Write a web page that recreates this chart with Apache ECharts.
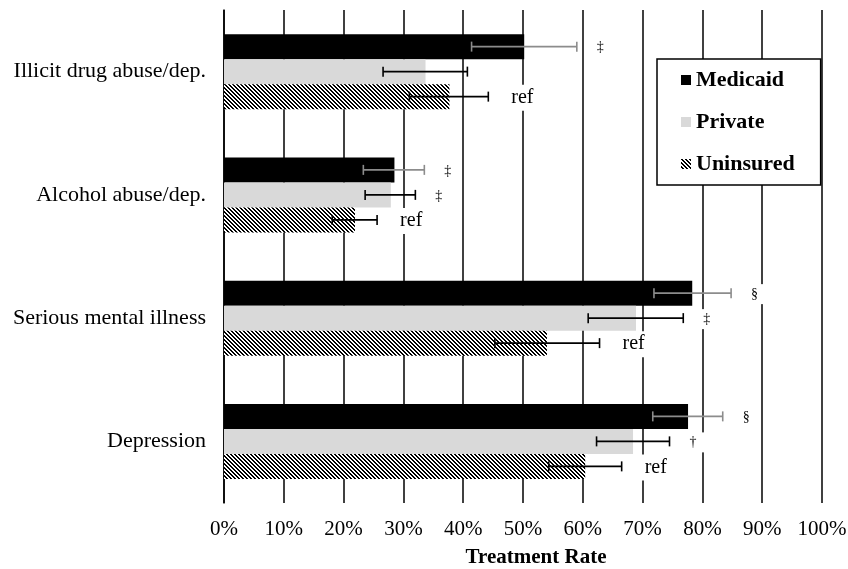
<!DOCTYPE html>
<html>
<head>
<meta charset="utf-8">
<script src="https://cdn.jsdelivr.net/npm/echarts@6/dist/echarts.min.js"></script>
<style>
    html,
    body {
        margin: 0;
        padding: 0;
        background: #fff;
    }
    #chart {
        width: 848px;
        height: 569px;
    }
</style>
</head>
<body>
<div id="chart"></div>
<script>
// values (percent)
const categories = [
    "Illicit drug abuse/dep.",
    "Alcohol abuse/dep.",
    "Serious mental illness",
    "Depression",
];
const seriesNames = ["Medicaid", "Private", "Uninsured"];

const medicaid = [50.2, 28.5, 78.3, 77.6];
const privateIns = [33.7, 27.9, 68.9, 68.4];
const uninsured = [37.7, 21.9, 54.0, 60.4];

const medicaidLow = [41.4, 23.3, 71.9, 71.7];
const medicaidHigh = [59.0, 33.5, 84.8, 83.4];
const privateLow = [26.6, 23.6, 60.9, 62.3];
const privateHigh = [40.7, 32.0, 76.8, 74.5];
const uninsuredLow = [31.0, 18.1, 45.3, 54.3];
const uninsuredHigh = [44.2, 25.6, 62.8, 66.5];

const medicaidMark = ["‡", "‡", "§", "§"];
const privateMark = ["", "‡", "‡", "†"];
const uninsuredMark = ["ref", "ref", "ref", "ref"];

const xTicks = [0, 10, 20, 30, 40, 50, 60, 70, 80, 90, 100];

const barWidth = 25;
const serif = "'Liberation Serif', 'DejaVu Serif', serif";

// diagonal hatch for the uninsured bars
const makeHatch = () => {
    const c = document.createElement("canvas");
    c.width = 4;
    c.height = 4;
    const ctx = c.getContext("2d");
    ctx.fillStyle = "#fff";
    ctx.fillRect(0, 0, 4, 4);
    ctx.fillStyle = "#000";
    for (let x = 0; x < 4; x++) {
        for (let y = 0; y < 4; y++) {
            const d = (((x - y) % 4) + 4) % 4;
            if (d < 2) ctx.fillRect(x, y, 1, 1);
        }
    }
    return c;
};
const hatch = { image: makeHatch(), repeat: "repeat" };

const groups = [
    { values: medicaid, low: medicaidLow, high: medicaidHigh, marks: medicaidMark, color: "#000", err: "#8c8c8c" },
    { values: privateIns, low: privateLow, high: privateHigh, marks: privateMark, color: "#d9d9d9", err: "#000" },
    { values: uninsured, low: uninsuredLow, high: uninsuredHigh, marks: uninsuredMark, color: hatch, err: "#000" },
];

let option = {
    animation: false,
    backgroundColor: "#fff",
    textStyle: { fontFamily: serif },
    grid: {
        left: 224,
        right: 26,
        top: 10,
        bottom: 66,
        outerBoundsMode: "none",
    },
    legend: {
        data: seriesNames,
        orient: "vertical",
        left: 657,
        top: 59,
        icon: "rect",
        itemWidth: 10,
        itemHeight: 10,
        itemGap: 20,
        padding: [10, 26, 10, 24],
        backgroundColor: "#fff",
        borderColor: "#000",
        borderWidth: 1.5,
        z: 10,
        textStyle: {
            fontFamily: serif,
            fontSize: 22,
            fontWeight: "bold",
            color: "#000",
            lineHeight: 22,
        },
    },
    xAxis: {
        type: "value",
        min: xTicks[0],
        max: xTicks[xTicks.length - 1],
        interval: 10,
        name: "Treatment Rate",
        nameLocation: "middle",
        nameGap: 44,
        nameTextStyle: {
            fontFamily: serif,
            fontSize: 21,
            fontWeight: "bold",
            color: "#000",
            padding: [0, 0, 0, 26],
        },
        axisLine: { show: false },
        axisTick: { show: false },
        axisLabel: {
            formatter: "{value}%",
            fontFamily: serif,
            fontSize: 21,
            color: "#000",
            margin: 16,
        },
        splitLine: {
            show: true,
            lineStyle: { color: "#000", width: 1.5 },
        },
    },
    yAxis: {
        type: "category",
        data: categories,
        inverse: true,
        axisTick: { show: false },
        axisLine: { show: true, lineStyle: { color: "#000", width: 1.5 } },
        axisLabel: {
            fontFamily: serif,
            fontSize: 22,
            color: "#000",
            margin: 18,
        },
    },
    series: [],
};

const errorItem = (g) => (params, api) => {
    const cat = api.value(0);
    const row = api.value(3);
    const lo = api.coord([api.value(1), cat]);
    const hi = api.coord([api.value(2), cat]);
    const y = lo[1] + (row - 1) * barWidth;
    const cap = 5;
    const style = { stroke: g.err, lineWidth: 1.6 };
    return {
        type: "group",
        children: [
            { type: "line", shape: { x1: lo[0], y1: y, x2: hi[0], y2: y }, style },
            { type: "line", shape: { x1: lo[0], y1: y - cap, x2: lo[0], y2: y + cap }, style },
            { type: "line", shape: { x1: hi[0], y1: y - cap, x2: hi[0], y2: y + cap }, style },
        ],
    };
};

const markItem = (g) => (params, api) => {
    const text = g.marks[params.dataIndex];
    if (!text) return null;
    const cat = api.value(0);
    const row = api.value(2);
    const hi = api.coord([api.value(1), cat]);
    const y = hi[1] + (row - 1) * barWidth;
    const isRef = text === "ref";
    return {
        type: "text",
        x: hi[0] + (isRef ? 15 : 12),
        y: y + 1,
        style: {
            text: text,
            font: (isRef ? 20 : 14) + "px " + serif,
            fill: "#000",
            align: "left",
            verticalAlign: "middle",
            backgroundColor: "#fff",
            padding: [3, 8],
        },
    };
};

groups.forEach((g, row) => {
    option.series.push({
        name: seriesNames[row],
        type: "bar",
        data: g.values,
        barWidth: barWidth,
        barGap: "0%",
        itemStyle: { color: g.color },
        z: 2,
    });
});

groups.forEach((g, row) => {
    option.series.push({
        name: seriesNames[row] + " mark",
        type: "custom",
        renderItem: markItem(g),
        data: categories.map((c, i) => [i, g.high[i], row]),
        encode: { x: 1, y: 0 },
        z: 3,
        silent: true,
    });
});

groups.forEach((g, row) => {
    option.series.push({
        name: seriesNames[row] + " error",
        type: "custom",
        renderItem: errorItem(g),
        data: categories.map((c, i) => [i, g.low[i], g.high[i], row]),
        encode: { x: [1, 2], y: 0 },
        z: 4,
        silent: true,
    });
});

const myChart = echarts.init(document.getElementById("chart"));
myChart.setOption(option);
</script>
</body>
</html>
